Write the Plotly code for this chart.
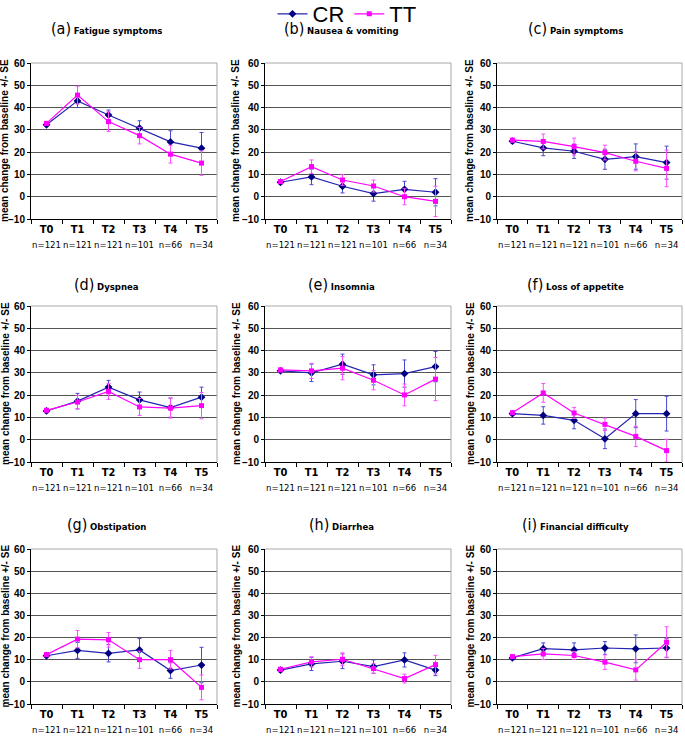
import plotly.graph_objects as go

categories = ["T0", "T1", "T2", "T3", "T4", "T5"]
n_labels = ["n=121", "n=121", "n=121", "n=101", "n=66", "n=34"]
panel_letters = ["(a)", "(b)", "(c)", "(d)", "(e)", "(f)", "(g)", "(h)", "(i)"]
panel_names = ["Fatigue symptoms", "Nausea & vomiting", "Pain symptoms",
               "Dyspnea", "Insomnia", "Loss of appetite",
               "Obstipation", "Diarrhea", "Financial difficulty"]
series_names = ["CR", "TT"]
y_ticks = [-10, 0, 10, 20, 30, 40, 50, 60]

cr_fatigue = [32.3, 43.0, 36.7, 30.8, 24.6, 21.8]
cr_fatigue_se = [0.8, 3.0, 2.2, 3.3, 5.0, 7.0]
tt_fatigue = [32.9, 45.6, 33.7, 27.4, 19.1, 15.1]
tt_fatigue_se = [0.8, 4.0, 4.4, 3.7, 4.0, 5.5]

cr_nausea = [6.5, 8.9, 4.7, 1.4, 3.3, 2.0]
cr_nausea_se = [0.8, 3.5, 3.0, 3.4, 3.6, 6.1]
tt_nausea = [6.8, 13.5, 7.5, 4.8, 0.0, -2.1]
tt_nausea_se = [0.8, 3.0, 2.4, 2.7, 3.6, 6.8]

cr_pain = [24.9, 21.9, 20.4, 16.8, 18.0, 15.3]
cr_pain_se = [0.8, 3.5, 3.2, 4.5, 5.7, 7.4]
tt_pain = [25.4, 24.8, 22.5, 19.8, 15.9, 12.7]
tt_pain_se = [0.8, 3.3, 3.8, 3.3, 4.3, 8.2]

cr_dyspnea = [12.9, 17.3, 23.6, 17.9, 14.4, 19.1]
cr_dyspnea_se = [0.8, 3.5, 3.0, 3.5, 4.3, 4.5]
tt_dyspnea = [13.2, 16.9, 21.7, 14.7, 14.2, 15.3]
tt_dyspnea_se = [0.8, 3.0, 3.6, 3.8, 4.5, 5.9]

cr_insomnia = [30.9, 30.0, 33.9, 29.1, 29.7, 32.8]
cr_insomnia_se = [0.8, 3.9, 4.5, 4.5, 6.1, 6.8]
tt_insomnia = [31.3, 30.9, 32.1, 26.7, 20.1, 27.2]
tt_insomnia_se = [0.8, 3.4, 5.2, 4.3, 4.9, 9.7]

cr_appetite = [11.7, 10.9, 8.7, 0.4, 11.7, 11.7]
cr_appetite_se = [0.8, 3.9, 3.8, 4.4, 6.3, 7.8]
tt_appetite = [12.1, 21.0, 12.0, 6.9, 1.5, -4.9]
tt_appetite_se = [0.8, 4.2, 2.5, 2.8, 4.5, 5.1]

cr_obstipation = [11.8, 14.2, 12.9, 14.4, 5.1, 7.6]
cr_obstipation_se = [0.8, 3.6, 3.9, 5.2, 3.5, 8.0]
tt_obstipation = [12.3, 19.3, 19.0, 10.0, 10.0, -2.5]
tt_obstipation_se = [0.8, 3.9, 3.3, 3.9, 4.2, 5.6]

cr_diarrhea = [5.3, 8.1, 9.3, 6.9, 9.9, 5.3]
cr_diarrhea_se = [0.8, 3.0, 3.3, 3.0, 3.2, 2.5]
tt_diarrhea = [5.7, 9.0, 10.2, 6.0, 1.5, 7.8]
tt_diarrhea_se = [0.8, 2.3, 2.9, 2.2, 2.0, 4.2]

cr_financial = [10.8, 15.0, 14.4, 15.3, 14.9, 15.3]
cr_financial_se = [0.8, 2.6, 3.2, 2.9, 6.3, 4.2]
tt_financial = [11.4, 12.6, 11.9, 8.9, 5.4, 17.9]
tt_financial_se = [0.8, 2.5, 1.8, 3.3, 4.6, 7.0]

panels = [
    (cr_fatigue, cr_fatigue_se, tt_fatigue, tt_fatigue_se),
    (cr_nausea, cr_nausea_se, tt_nausea, tt_nausea_se),
    (cr_pain, cr_pain_se, tt_pain, tt_pain_se),
    (cr_dyspnea, cr_dyspnea_se, tt_dyspnea, tt_dyspnea_se),
    (cr_insomnia, cr_insomnia_se, tt_insomnia, tt_insomnia_se),
    (cr_appetite, cr_appetite_se, tt_appetite, tt_appetite_se),
    (cr_obstipation, cr_obstipation_se, tt_obstipation, tt_obstipation_se),
    (cr_diarrhea, cr_diarrhea_se, tt_diarrhea, tt_diarrhea_se),
    (cr_financial, cr_financial_se, tt_financial, tt_financial_se),
]

W, H = 685, 744


def px_x(p):
    return p / W


def px_y(p):
    return 1 - p / H


col_px = [(31, 217), (265, 451), (497, 682)]
row_px = [(63, 219), (306, 462), (549, 704)]
title_x_px = [106, 341, 575]
title_y_px = [29, 284, 524]
ytitle_x_px = [5, 236, 470]

CR_LINE = "#2424b0"
CR_MARK = "#000080"
CR_ERR = "#4a4ad0"
TT_LINE = "#ff00ff"
TT_ERR = "#ff4dff"

NARROW = "Liberation Sans Narrow, Arial Narrow, DejaVu Sans Condensed, Liberation Sans, Arial, sans-serif"
ARIAL = "Liberation Sans, Arial, sans-serif"

fig = go.Figure()
layout = dict(
    width=W, height=H, margin=dict(l=0, r=0, t=0, b=0, autoexpand=False),
    paper_bgcolor="white", plot_bgcolor="white",
    showlegend=True,
    legend=dict(orientation="h", x=px_x(347), xanchor="center", y=px_y(14),
                yanchor="middle",
                font=dict(family=ARIAL, size=22, color="black"),
                bgcolor="rgba(0,0,0,0)", itemwidth=30, tracegroupgap=0),
)
annotations = []
shapes = []

ticktext = [f"<b>{c}</b><br><span style='font-size:9.5px'>{n}</span>"
            for c, n in zip(categories, n_labels)]

for i, (cr, cr_se, tt, tt_se) in enumerate(panels):
    r, c = divmod(i, 3)
    k = "" if i == 0 else str(i + 1)
    xa, ya = "x" + k, "y" + k
    x0, x1 = col_px[c]
    y0, y1 = row_px[r]
    layout["xaxis" + k] = dict(
        domain=[px_x(x0), px_x(x1)], anchor=ya, type="category",
        categoryorder="array", categoryarray=categories,
        range=[-0.5, 5.5], tickmode="array", tickvals=categories, ticktext=ticktext,
        tickson="boundaries", ticks="outside", ticklen=4, tickcolor="black",
        tickangle=0, automargin=False,
        showline=True, linecolor="black", linewidth=1, showgrid=False,
        tickfont=dict(family=NARROW, size=11, color="black"), fixedrange=True,
    )
    layout["yaxis" + k] = dict(
        domain=[px_y(y1), px_y(y0)], anchor=xa, range=[-10, 60],
        tickmode="array", tickvals=y_ticks, ticks="outside", ticklen=3,
        tickcolor="black", showline=True, linecolor="black", linewidth=1,
        showgrid=True, gridcolor="#555555", gridwidth=1, zeroline=False,
        automargin=False,
        tickfont=dict(family=ARIAL, size=10, color="black", weight="bold"),
        fixedrange=True,
    )
    # light grey plot-area border on top and right (Excel style)
    shapes.append(dict(type="line", xref=xa + " domain", yref=ya + " domain",
                       x0=0, x1=1, y0=1, y1=1, line=dict(color="#a8a8a8", width=1),
                       layer="above"))
    shapes.append(dict(type="line", xref=xa + " domain", yref=ya + " domain",
                       x0=1, x1=1, y0=0, y1=1, line=dict(color="#a8a8a8", width=1),
                       layer="above"))
    fig.add_trace(go.Scatter(
        x=categories, y=cr, xaxis=xa, yaxis=ya, name=series_names[0],
        mode="lines+markers", line=dict(color=CR_LINE, width=1.2),
        marker=dict(symbol="diamond", size=6, color=CR_MARK),
        error_y=dict(type="data", array=cr_se, visible=True, color=CR_ERR,
                     thickness=1, width=2),
        showlegend=(i == 0), legendgroup="CR"))
    fig.add_trace(go.Scatter(
        x=categories, y=tt, xaxis=xa, yaxis=ya, name=series_names[1],
        mode="lines+markers", line=dict(color=TT_LINE, width=1.2),
        marker=dict(symbol="square", size=5, color=TT_LINE),
        error_y=dict(type="data", array=tt_se, visible=True, color=TT_ERR,
                     thickness=1, width=2),
        showlegend=(i == 0), legendgroup="TT"))
    annotations.append(dict(
        x=px_x(title_x_px[c]), y=px_y(title_y_px[r]), xref="paper", yref="paper",
        xanchor="center", yanchor="middle", showarrow=False,
        text=(f"<span style='font-size:16px;font-weight:normal'>{panel_letters[i]}</span> "
              f"<b>{panel_names[i]}</b>"),
        font=dict(family=NARROW, size=9.5, color="black")))
    annotations.append(dict(
        x=px_x(ytitle_x_px[c]), y=px_y((y0 + y1) / 2), xref="paper", yref="paper",
        xanchor="center", yanchor="middle", showarrow=False, textangle=-90,
        text="<b>mean change from baseline +/- SE</b>",
        font=dict(family=ARIAL, size=10, color="black")))

layout["annotations"] = annotations
layout["shapes"] = shapes
fig.update_layout(**layout)
# remove the default 8px page margin so the 685x744 figure fills the window exactly
fig.write_html("out.html", config={"displayModeBar": False},
               post_script="document.body.style.margin='0';document.body.style.overflow='hidden';")
